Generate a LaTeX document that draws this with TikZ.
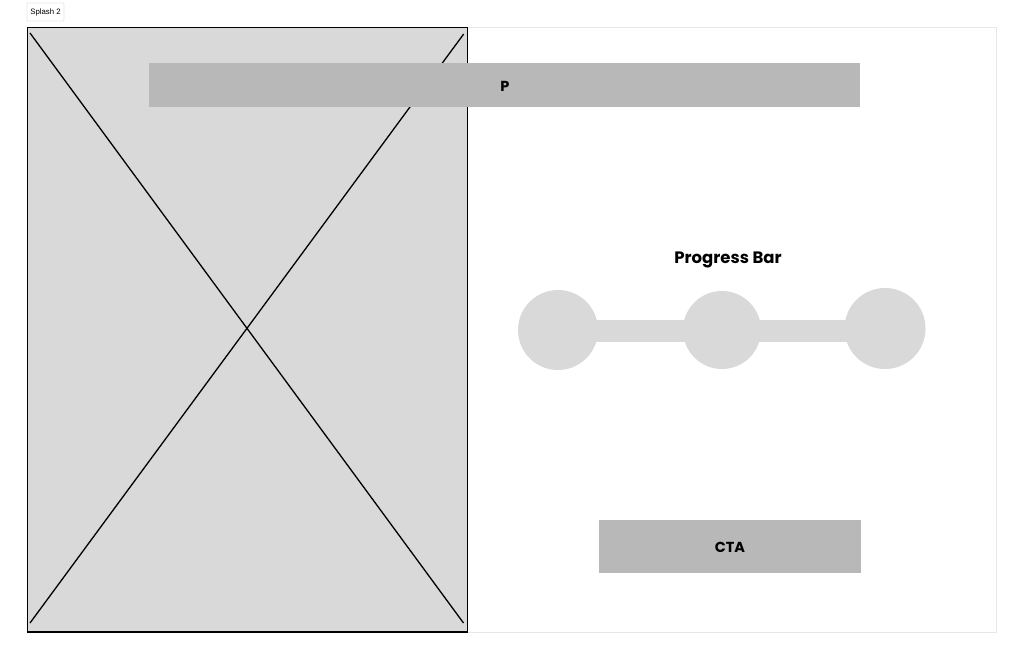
\documentclass[tikz,border=0pt]{standalone}
\usepackage{fontspec}
\setmainfont{Poppins}
\newfontfamily\labelfont{Liberation Sans}
\definecolor{imgfill}{HTML}{D9D9D9}
\definecolor{barfill}{HTML}{B8B8B8}
\definecolor{framecol}{HTML}{E6E6E6}
\definecolor{stepfill}{HTML}{D9D9D9}
\begin{document}
\begin{tikzpicture}[x=1pt,y=-1pt,
  stepdot/.style={circle,fill=stepfill,draw=none,inner sep=0pt,minimum size=80pt},
  boldtext/.style={font=\bfseries\fontsize{14.5}{16}\selectfont}]
\useasboundingbox (0,0) rectangle (1024,660);
\fill[white] (0,0) rectangle (1024,660);
% tag
\node[draw=framecol,line width=0.8pt,rounded corners=1pt,fill=white,inner sep=0pt,minimum width=37pt,minimum height=18pt,font=\labelfont\fontsize{7.8}{9}\selectfont] (tag) at (45.5,12) {Splash 2};
% frame
\draw[framecol,line width=0.8pt] (27,27) rectangle (996,632);
% image placeholder
\draw[fill=imgfill,line width=1.5pt] (27.7,27.5) rectangle (467.7,632);
\coordinate (tl) at (30,33);
\coordinate (tr) at (463.7,34);
\coordinate (bl) at (30,623);
\coordinate (br) at (463.5,623);
\draw[line width=1.3pt] (tl) -- (br);
\draw[line width=1.3pt] (tr) -- (bl);
% P bar
\fill[barfill] (149,63.5) rectangle (860,107.5);
\node[boldtext] (p) at (505,86.5) {P};
% progress bar
\node[font=\bfseries\fontsize{16.5}{18}\selectfont] (title) at (728,259.5) {Progress Bar};
\fill[stepfill] (558,320) rectangle (885,342);
\node[stepdot] (s1) at (558,330) {};
\node[stepdot,minimum size=78pt] (s2) at (722,330) {};
\node[stepdot,minimum size=81pt] (s3) at (885,328.5) {};
% CTA
\fill[barfill] (599,520) rectangle (861,573);
\node[boldtext] (cta) at (730,547.5) {CTA};
\end{tikzpicture}
\end{document}
